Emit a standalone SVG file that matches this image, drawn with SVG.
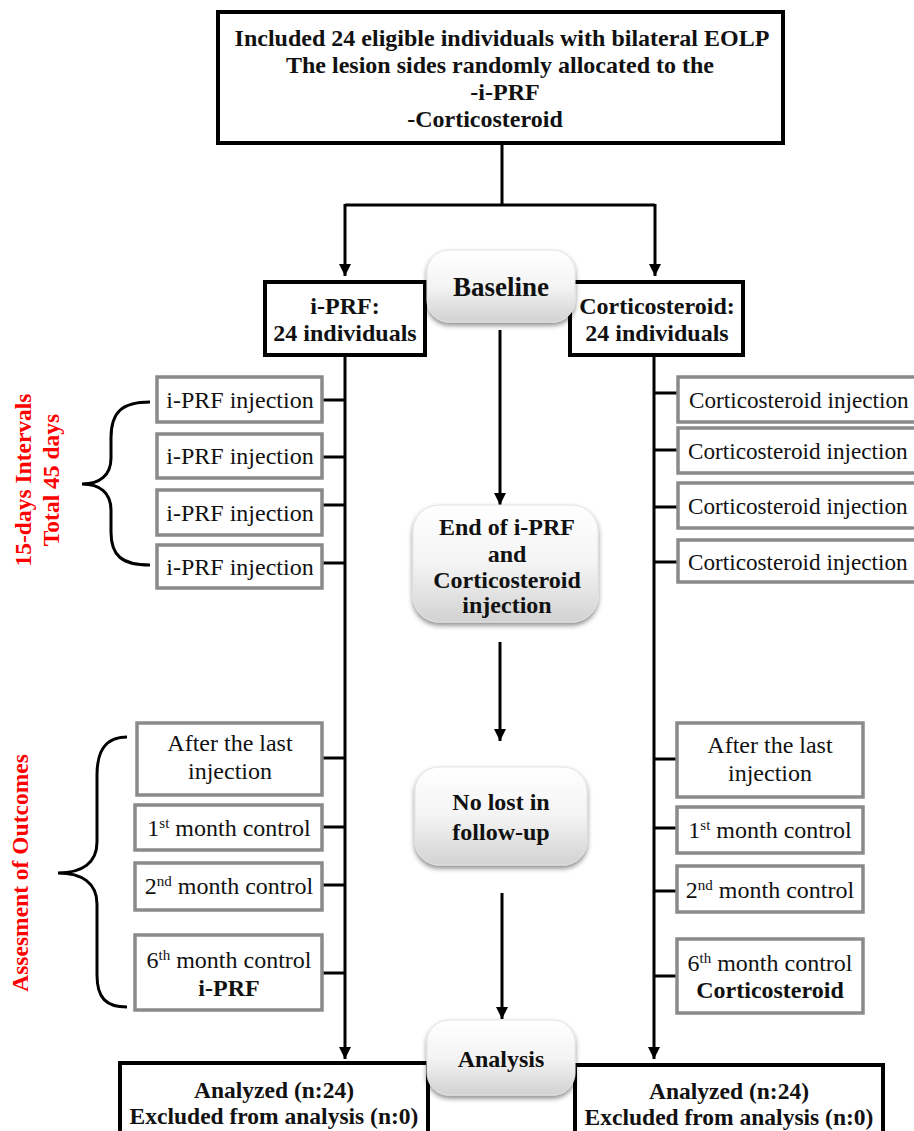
<svg xmlns="http://www.w3.org/2000/svg" width="914" height="1131" viewBox="0 0 914 1131" font-family="'Liberation Serif', 'DejaVu Serif', serif">
<defs>
<style>
text{font-family:'Liberation Serif','DejaVu Serif',serif;font-size:24px;fill:#111}
.b{font-weight:bold}
.m{text-anchor:middle}
.red{fill:#ff0000;font-weight:bold;font-size:23.5px}
.btm{font-size:23.5px}
.ci{font-size:23.2px}
.blk{fill:#fff;stroke:#000;stroke-width:4}
.gry{fill:#fff;stroke:#8a8a8a;stroke-width:3.5}
.rnd{fill:url(#g);stroke:#e2e2e2;stroke-width:1;filter:url(#sh)}
.ln{fill:none;stroke:#000;stroke-width:3}
.arr{fill:none;stroke:#000;stroke-width:3;marker-end:url(#ah)}
.sup{font-size:15px}
</style>
<linearGradient id="g" x1="0" y1="0" x2="0" y2="1">
<stop offset="0" stop-color="#ffffff"/>
<stop offset="0.5" stop-color="#f4f4f4"/>
<stop offset="1" stop-color="#d2d2d2"/>
</linearGradient>
<filter id="sh" x="-20%" y="-20%" width="140%" height="150%">
<feDropShadow dx="0" dy="3" stdDeviation="2.5" flood-color="#000" flood-opacity="0.45"/>
</filter>
<marker id="ah" viewBox="0 0 10 10" refX="10" refY="5" markerWidth="4" markerHeight="4" orient="auto" markerUnits="strokeWidth">
<path d="M0,0 L10,5 L0,10 Z" fill="#000"/>
</marker>
</defs>
<rect width="914" height="1131" fill="#fff"/>

<g id="connectors">
<path class="ln" d="M502,143 V205 M345,205 H655"/>
<path class="arr" d="M345,204 V276"/>
<path class="arr" d="M655,204 V276"/>
<path class="arr" d="M345,355 V1059"/>
<path class="arr" d="M654,355 V1059"/>
<path class="arr" d="M500,330 V505"/>
<path class="arr" d="M500,642 V741"/>
<path class="arr" d="M502,893 V1019"/>
<path class="ln" d="M322,400 H345 M322,457 H345 M322,505 H345 M322,563 H345"/>
<path class="ln" d="M654,393 H678 M654,450 H678 M654,507 H678 M654,562 H678"/>
<path class="ln" d="M322,758 H345 M322,827 H345 M322,885 H345 M322,973 H345"/>
<path class="ln" d="M654,759 H677 M654,828 H677 M654,891 H677 M654,976 H677"/>
</g>

<g id="braces">
<path class="ln" d="M150,402 C122,402 111,412 111,438 L111,458 C111,475 100,484 82,484 C100,484 111,493 111,510 L111,532 C111,556 122,565 150,565"/>
<path class="ln" d="M127,737 C106,737 97,750 97,775 L97,842 C97,863 82,873 58,873 C82,873 97,883 97,904 L97,975 C97,998 106,1007 127,1007"/>
</g>

<g id="labels">
<text class="red m" transform="translate(31,480) rotate(-90)">15-days Intervals</text>
<text class="red m" transform="translate(59,480) rotate(-90)">Total 45 days</text>
<text class="red m" transform="translate(28,873) rotate(-90)">Assesment of Outcomes</text>
</g>

<g id="top">
<rect class="blk" x="218" y="12" width="565" height="131"/>
<text class="b m" x="502" y="46">Included 24 eligible individuals with bilateral EOLP</text>
<text class="b m" x="500" y="73">The lesion sides randomly allocated to the</text>
<text class="b m" x="505" y="100">-i-PRF</text>
<text class="b m" x="485" y="127">-Corticosteroid</text>
</g>

<g id="iprf">
<rect class="blk" x="265" y="282" width="160" height="73"/>
<text class="b m" x="345" y="314">i-PRF:</text>
<text class="b m" x="345" y="341">24 individuals</text>
</g>

<g id="cortico">
<rect class="blk" x="570" y="282" width="173" height="73"/>
<text class="b m" x="657" y="314">Corticosteroid:</text>
<text class="b m" x="657" y="341">24 individuals</text>
</g>

<g id="baseline">
<rect class="rnd" x="427" y="250" width="148" height="72" rx="22"/>
<text class="b m" x="501" y="296" style="font-size:27px">Baseline</text>
</g>

<g id="inj-left">
<rect class="gry" x="157" y="377" width="165" height="45"/>
<text class="m" x="240" y="408">i-PRF injection</text>
<rect class="gry" x="157" y="434" width="165" height="44"/>
<text class="m" x="240" y="464">i-PRF injection</text>
<rect class="gry" x="157" y="490" width="165" height="45"/>
<text class="m" x="240" y="521">i-PRF injection</text>
<rect class="gry" x="157" y="545" width="165" height="43"/>
<text class="m" x="240" y="575">i-PRF injection</text>
</g>

<g id="inj-right">
<rect class="gry" x="678" y="377" width="250" height="45"/>
<text class="ci" x="689" y="408">Corticosteroid injection</text>
<rect class="gry" x="678" y="428" width="250" height="45"/>
<text class="ci" x="688" y="459">Corticosteroid injection</text>
<rect class="gry" x="678" y="483" width="250" height="45"/>
<text class="ci" x="688" y="514">Corticosteroid injection</text>
<rect class="gry" x="678" y="540" width="250" height="42"/>
<text class="ci" x="688" y="570">Corticosteroid injection</text>
</g>

<g id="end">
<rect class="rnd" x="413" y="505" width="185" height="117" rx="26"/>
<text class="b m" x="507" y="535">End of i-PRF</text>
<text class="b m" x="507" y="562">and</text>
<text class="b m" x="507" y="588">Corticosteroid</text>
<text class="b m" x="507" y="613">injection</text>
</g>

<g id="nolost">
<rect class="rnd" x="415" y="767" width="172" height="98" rx="24"/>
<text class="b m" x="501" y="810">No lost in</text>
<text class="b m" x="501" y="840">follow-up</text>
</g>

<g id="assess-left">
<rect class="gry" x="137" y="723" width="185" height="72"/>
<text class="m" x="230" y="751">After the last</text>
<text class="m" x="230" y="779">injection</text>
<rect class="gry" x="135" y="805" width="187" height="45"/>
<text class="m" x="229" y="836">1<tspan class="sup" dy="-8">st</tspan><tspan dy="8"> month control</tspan></text>
<rect class="gry" x="135" y="863" width="187" height="47"/>
<text class="m" x="229" y="894">2<tspan class="sup" dy="-8">nd</tspan><tspan dy="8"> month control</tspan></text>
<rect class="gry" x="135" y="935" width="187" height="75"/>
<text class="m" x="229" y="968">6<tspan class="sup" dy="-8">th</tspan><tspan dy="8"> month control</tspan></text>
<text class="b m" x="229" y="996">i-PRF</text>
</g>

<g id="assess-right">
<rect class="gry" x="677" y="723" width="186" height="74"/>
<text class="m" x="770" y="753">After the last</text>
<text class="m" x="770" y="781">injection</text>
<rect class="gry" x="677" y="807" width="186" height="46"/>
<text class="m" x="770" y="838">1<tspan class="sup" dy="-8">st</tspan><tspan dy="8"> month control</tspan></text>
<rect class="gry" x="677" y="866" width="186" height="46"/>
<text class="m" x="770" y="898">2<tspan class="sup" dy="-8">nd</tspan><tspan dy="8"> month control</tspan></text>
<rect class="gry" x="677" y="939" width="186" height="74"/>
<text class="m" x="770" y="971">6<tspan class="sup" dy="-8">th</tspan><tspan dy="8"> month control</tspan></text>
<text class="b m" x="770" y="998">Corticosteroid</text>
</g>

<g id="analyzed-left">
<rect class="blk" x="120" y="1063" width="308" height="80"/>
<text class="b m btm" x="274" y="1098">Analyzed (n:24)</text>
<text class="b m btm" x="274" y="1124">Excluded from analysis (n:0)</text>
</g>

<g id="analyzed-right">
<rect class="blk" x="575" y="1065" width="308" height="80"/>
<text class="b m btm" x="729" y="1099">Analyzed (n:24)</text>
<text class="b m btm" x="729" y="1125">Excluded from analysis (n:0)</text>
</g>

<g id="analysis">
<rect class="rnd" x="427" y="1020" width="148" height="75" rx="22"/>
<text class="b m" x="501" y="1067">Analysis</text>
</g>
</svg>
